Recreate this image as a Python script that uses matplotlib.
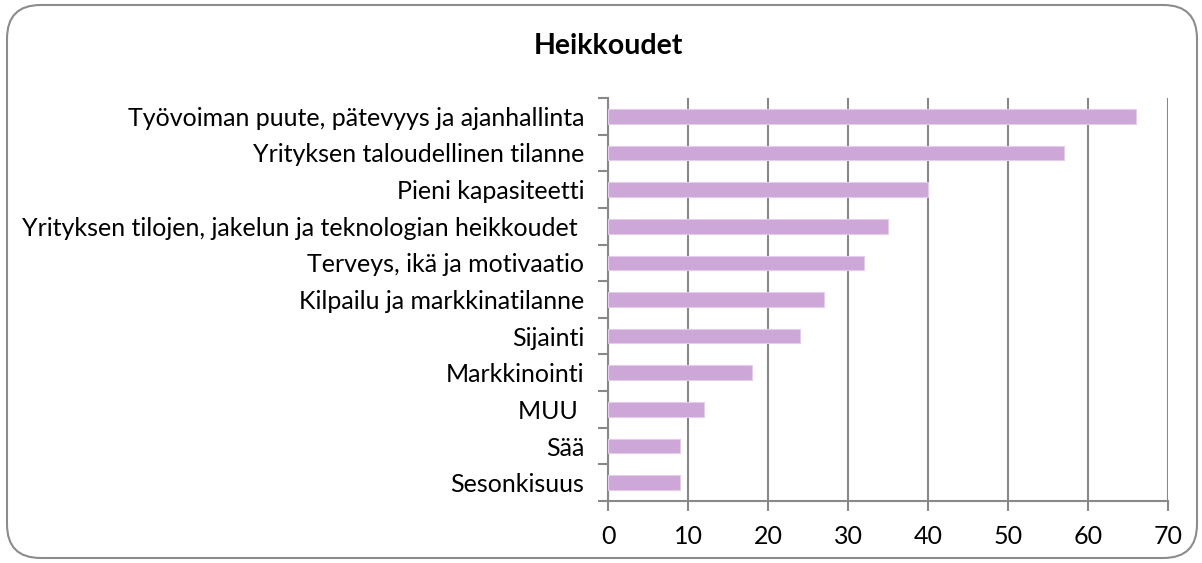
import numpy as np
import matplotlib.pyplot as plt
from matplotlib.patches import FancyBboxPatch

plt.rcParams['font.family'] = ['Lato', 'DejaVu Sans']

# data, top row first
categories = [
    'Työvoiman puute, pätevyys ja ajanhallinta',
    'Yrityksen taloudellinen tilanne',
    'Pieni kapasiteetti',
    'Yrityksen tilojen, jakelun ja teknologian heikkoudet ',
    'Terveys, ikä ja motivaatio',
    'Kilpailu ja markkinatilanne',
    'Sijainti',
    'Markkinointi',
    'MUU ',
    'Sää',
    'Sesonkisuus',
]
values = [66, 57, 40, 35, 32, 27, 24, 18, 12, 9, 9]
x_ticks = [0, 10, 20, 30, 40, 50, 60, 70]

W, H = 1202, 563
fig = plt.figure(figsize=(W / 100, H / 100), dpi=100)

# rounded outer frame, like the Excel chart area
frame = FancyBboxPatch((7 / W, 5 / H), 1190 / W, 553 / H,
                       boxstyle='round,pad=0,rounding_size=0.028',
                       transform=fig.transFigure, facecolor='none',
                       edgecolor='#8c8c8c', linewidth=1.5, mutation_aspect=W / H,
                       zorder=-1)
fig.patches.append(frame)

ax = fig.add_axes([608 / W, (H - 501) / H, 560 / W, 403 / H])
ax.set_facecolor('none')

n = len(categories)
y = np.arange(n)[::-1]
ax.barh(y, values, height=0.4, color='#cda7d8', edgecolor='#e3cdea', linewidth=0.8, zorder=3)

ax.set_xlim(0, 70)
ax.set_ylim(-0.5, n - 0.5)
ax.set_xticks(x_ticks)
ax.set_xticklabels([str(t) for t in x_ticks], fontsize=18)
ax.set_yticks(y)
ax.set_yticklabels(categories, fontsize=18)
ax.set_yticks(np.arange(n + 1) - 0.5, minor=True)

ax.grid(axis='x', color='#888888', linewidth=1.5, zorder=0)
for s in ['top', 'right']:
    ax.spines[s].set_visible(False)
for s in ['left', 'bottom']:
    ax.spines[s].set_color('#888888')
    ax.spines[s].set_linewidth(1.5)

ax.tick_params(axis='y', which='major', length=0, pad=17)
ax.tick_params(axis='y', which='minor', length=7, width=1.5, color='#888888')
ax.tick_params(axis='x', which='major', length=7, width=1.5, color='#888888', pad=10)

fig.text(608 / W, 1 - 46 / H, 'Heikkoudet', ha='center', va='center',
         fontsize=20.5, fontweight='bold')

fig.savefig('out.png', dpi=100)
